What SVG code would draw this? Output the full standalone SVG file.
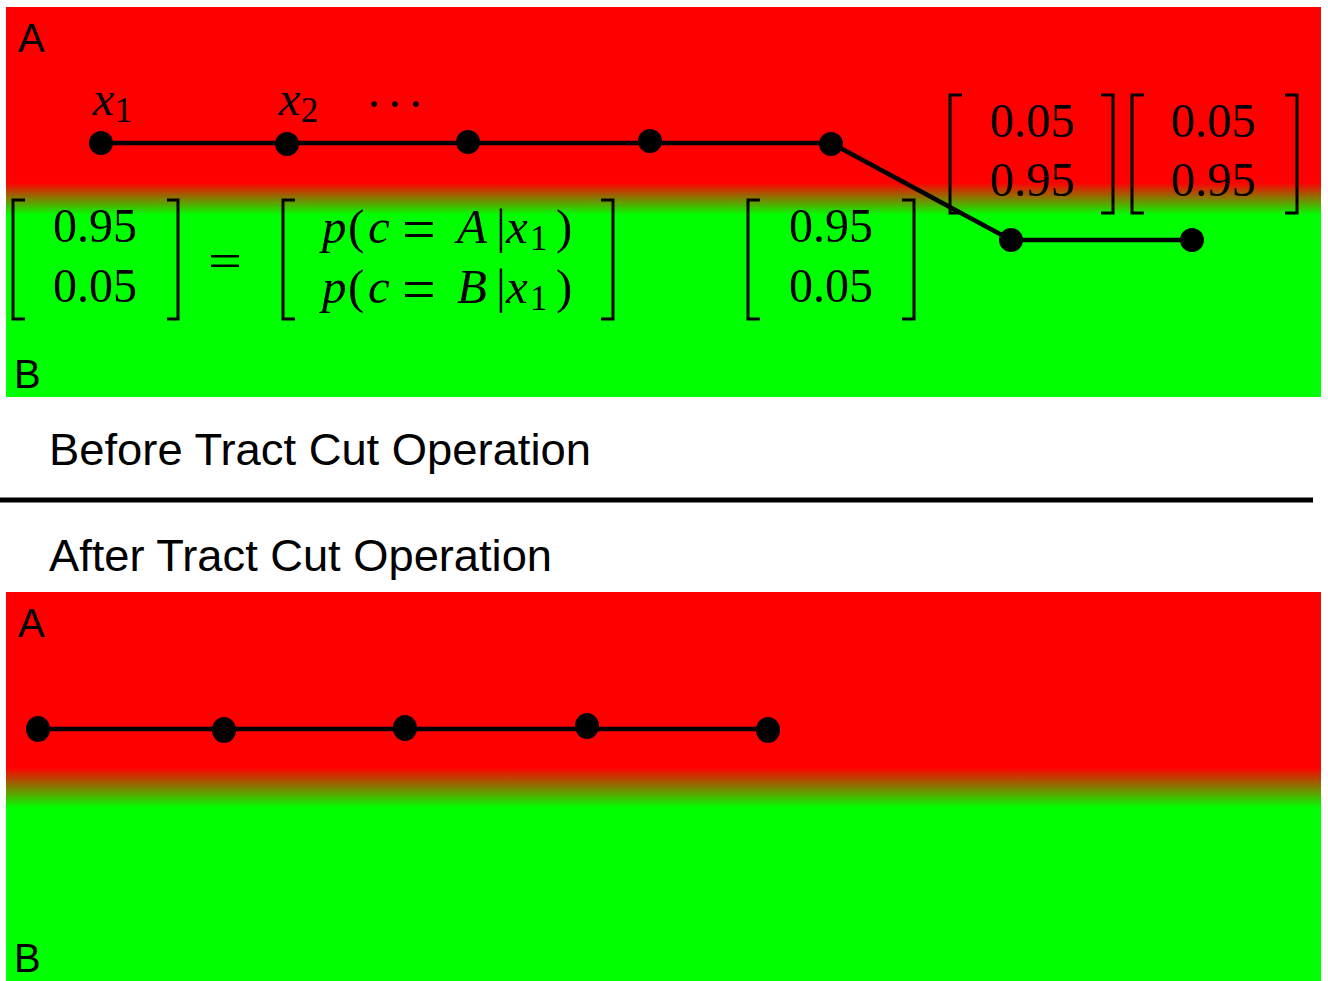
<svg xmlns="http://www.w3.org/2000/svg" width="1328" height="981" viewBox="0 0 1328 981">
<defs>
<linearGradient id="g1" x1="0" y1="7" x2="0" y2="397" gradientUnits="userSpaceOnUse">
<stop offset="0.451" stop-color="#ff0000"/>
<stop offset="0.533" stop-color="#00ff00"/>
</linearGradient>
<linearGradient id="g2" x1="0" y1="592" x2="0" y2="981" gradientUnits="userSpaceOnUse">
<stop offset="0.452" stop-color="#ff0000"/>
<stop offset="0.555" stop-color="#00ff00"/>
</linearGradient>
<style>
.lbl{font-family:"Liberation Sans",Arial,sans-serif;font-size:40px;fill:#000}
.title{font-family:"Liberation Sans",Arial,sans-serif;font-size:45px;fill:#000}
.m{font-family:"Liberation Serif","Times New Roman",serif;font-size:49px;fill:#000}
.it{font-style:italic}
.br{fill:none;stroke:#000;stroke-width:3}
.edge{stroke:#000;stroke-width:4.5;fill:none}
.node{fill:#000}
</style>
</defs>
<rect x="6" y="7" width="1315" height="390" fill="url(#g1)"/>
<rect x="6" y="592" width="1315" height="389" fill="url(#g2)"/>
<text class="lbl" x="18" y="52">A</text>
<text class="lbl" x="14" y="388">B</text>
<text class="lbl" x="18" y="637">A</text>
<text class="lbl" x="14" y="972">B</text>
<text class="title" x="49" y="465" textLength="542" lengthAdjust="spacingAndGlyphs">Before Tract Cut Operation</text>
<line x1="0" y1="500" x2="1313" y2="500" stroke="#000" stroke-width="5"/>
<text class="title" x="49" y="571" textLength="503" lengthAdjust="spacingAndGlyphs">After Tract Cut Operation</text>

<g id="connectors">
<polyline class="edge" points="101,143 831,143 1011,240 1192,240"/>
<polyline class="edge" points="38,729 768,729"/>
</g>

<g id="top-nodes">
<circle id="n1" class="node" cx="101" cy="143" r="12"/>
<circle id="n2" class="node" cx="287" cy="144" r="12"/>
<circle id="n3" class="node" cx="468" cy="142" r="12"/>
<circle id="n4" class="node" cx="650" cy="141" r="12"/>
<circle id="n5" class="node" cx="831" cy="144" r="12"/>
<circle id="n6" class="node" cx="1011" cy="240" r="12"/>
<circle id="n7" class="node" cx="1192" cy="240" r="12"/>
</g>
<g id="bottom-nodes">
<ellipse id="b1" class="node" cx="38" cy="729" rx="12" ry="13"/>
<ellipse id="b2" class="node" cx="224" cy="730" rx="12" ry="13"/>
<ellipse id="b3" class="node" cx="405" cy="728" rx="12" ry="13"/>
<ellipse id="b4" class="node" cx="587" cy="726" rx="12" ry="13"/>
<ellipse id="b5" class="node" cx="768" cy="730" rx="12" ry="13"/>
</g>

<g id="node-labels">
<text class="m" x="93" y="115" font-size="52"><tspan class="it">x</tspan><tspan font-size="35" dy="7">1</tspan></text>
<text class="m" x="279" y="115" font-size="52"><tspan class="it">x</tspan><tspan font-size="35" dy="7">2</tspan></text>
<text class="m" x="366" y="120" textLength="58" lengthAdjust="spacing">· · ·</text>
</g>

<g id="matrix-left">
<path class="br" d="M25,200 H13 V319 H25 M167,200 H178 V319 H167"/>
<text class="m" x="53" y="242" textLength="84" lengthAdjust="spacingAndGlyphs">0.95</text>
<text class="m" x="53" y="302" textLength="84" lengthAdjust="spacingAndGlyphs">0.05</text>
</g>
<text class="m" x="208" y="277" font-size="60" textLength="34" lengthAdjust="spacingAndGlyphs">=</text>
<g id="matrix-prob">
<path class="br" d="M295,200 H283 V319 H295 M601,200 H613 V319 H601"/>
<text class="m" y="243" font-size="50"><tspan class="it" x="322">p</tspan><tspan x="348">(</tspan><tspan class="it" x="368">c</tspan><tspan x="402" font-size="60" dy="6">=</tspan><tspan class="it" x="457" dy="-6">A</tspan><tspan x="496">|</tspan><tspan class="it" x="506">x</tspan><tspan x="530" font-size="35" dy="7">1</tspan><tspan x="556" dy="-7">)</tspan></text>
<text class="m" y="303" font-size="50"><tspan class="it" x="322">p</tspan><tspan x="348">(</tspan><tspan class="it" x="368">c</tspan><tspan x="402" font-size="60" dy="6">=</tspan><tspan class="it" x="457" dy="-6">B</tspan><tspan x="496">|</tspan><tspan class="it" x="506">x</tspan><tspan x="530" font-size="35" dy="7">1</tspan><tspan x="556" dy="-7">)</tspan></text>
</g>
<g id="matrix-mid">
<path class="br" d="M760,200 H748 V319 H760 M902,200 H914 V319 H902"/>
<text class="m" x="789" y="242" textLength="84" lengthAdjust="spacingAndGlyphs">0.95</text>
<text class="m" x="789" y="302" textLength="84" lengthAdjust="spacingAndGlyphs">0.05</text>
</g>
<g id="matrix-r1">
<path class="br" d="M962,95 H950 V213 H962 M1101,95 H1113 V213 H1101"/>
<text class="m" x="990" y="137" textLength="85" lengthAdjust="spacingAndGlyphs">0.05</text>
<text class="m" x="990" y="196" textLength="85" lengthAdjust="spacingAndGlyphs">0.95</text>
</g>
<g id="matrix-r2">
<path class="br" d="M1144,95 H1132 V213 H1144 M1285,95 H1297 V213 H1285"/>
<text class="m" x="1171" y="137" textLength="85" lengthAdjust="spacingAndGlyphs">0.05</text>
<text class="m" x="1171" y="196" textLength="85" lengthAdjust="spacingAndGlyphs">0.95</text>
</g>
</svg>
